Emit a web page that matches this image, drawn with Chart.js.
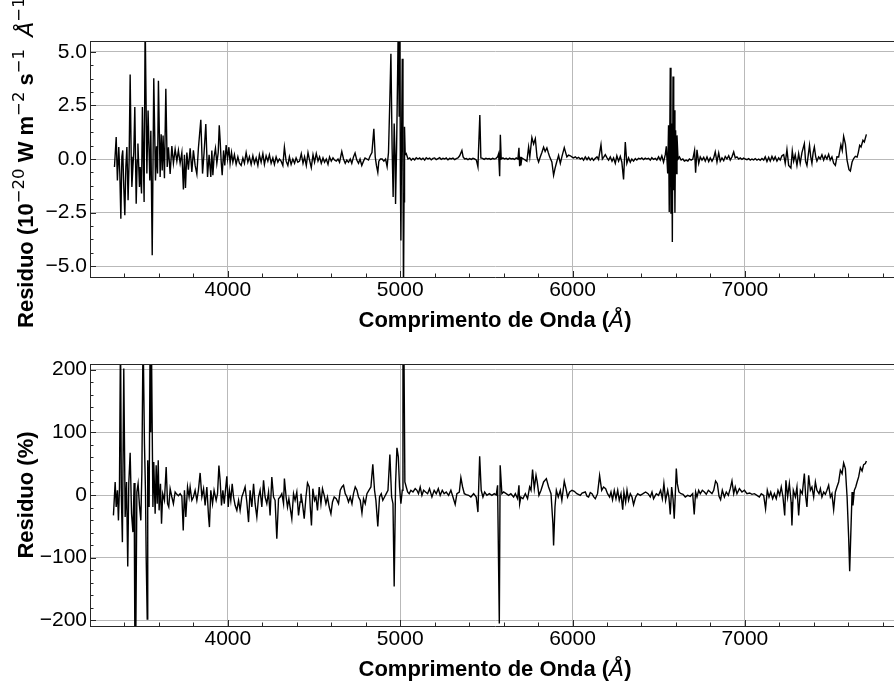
<!DOCTYPE html>
<html lang="pt">
<head>
<meta charset="utf-8">
<title>Resíduos do ajuste espectral</title>
<script src="https://cdn.jsdelivr.net/npm/chart.js@4.4.1/dist/chart.umd.min.js"></script>
<style>
  html, body { margin: 0; padding: 0; background: #fff; }
  #figure { position: relative; width: 894px; height: 684px; overflow: hidden; }
  #figure canvas { position: absolute; left: 0; }
  #fluxChart { top: 0; }
  #pctChart { top: 342px; }
</style>
</head>
<body>
<div id="figure">
  <canvas id="fluxChart" width="910" height="342"></canvas>
  <canvas id="pctChart" width="910" height="342"></canvas>
</div>
<script>
// ===========================
// Residual data (wavelength in Angstrom)
// ===========================

const waveFlux = [
    3342, 3352, 3359, 3367, 3373, 3379, 3385, 3390, 3396, 3402, 3408, 3414, 3421, 3427, 3433, 3439,
    3443, 3449, 3454, 3460, 3468, 3474, 3478, 3483, 3487, 3491, 3499, 3504, 3514, 3520, 3530, 3537,
    3547, 3553, 3561, 3570, 3580, 3586, 3592, 3597, 3607, 3613, 3619, 3624, 3632, 3640, 3648, 3655,
    3665, 3675, 3684, 3694, 3704, 3713, 3723, 3733, 3742, 3748, 3754, 3762, 3771, 3781, 3791, 3800,
    3810, 3820, 3829, 3843, 3853, 3862, 3872, 3882, 3891, 3901, 3907, 3913, 3920, 3928, 3936, 3944,
    3950, 3955, 3961, 3967, 3975, 3982, 3990, 3998, 4006, 4013, 4021, 4029, 4038, 4048, 4058, 4067,
    4077, 4087, 4096, 4106, 4116, 4125, 4135, 4145, 4154, 4164, 4174, 4183, 4193, 4203, 4212, 4222,
    4232, 4241, 4251, 4261, 4270, 4280, 4290, 4299, 4309, 4319, 4328, 4338, 4348, 4357, 4367, 4377,
    4387, 4396, 4406, 4416, 4426, 4436, 4445, 4455, 4465, 4474, 4484, 4494, 4503, 4513, 4523, 4532,
    4542, 4552, 4561, 4571, 4581, 4590, 4600, 4610, 4619, 4629, 4639, 4648, 4661, 4671, 4681, 4690,
    4700, 4710, 4719, 4729, 4738, 4748, 4758, 4767, 4777, 4787, 4796, 4806, 4816, 4826, 4836, 4847,
    4855, 4862, 4870, 4876, 4885, 4895, 4905, 4915, 4924, 4932, 4939, 4946, 4953, 4959, 4965, 4970,
    4973, 4979, 4985, 4989, 4994, 4998, 5001, 5004, 5008, 5012, 5016, 5019, 5022, 5025, 5029, 5035,
    5045, 5055, 5064, 5074, 5084, 5093, 5103, 5113, 5122, 5132, 5142, 5151, 5161, 5171, 5180, 5190,
    5200, 5209, 5219, 5229, 5238, 5248, 5258, 5267, 5277, 5287, 5296, 5306, 5316, 5325, 5335, 5345,
    5358, 5365, 5374, 5384, 5393, 5403, 5413, 5422, 5432, 5442, 5451, 5462, 5468, 5478, 5487, 5497,
    5507, 5516, 5526, 5536, 5545, 5555, 5565, 5571, 5577, 5581, 5586, 5596, 5605, 5615, 5625, 5634,
    5644, 5654, 5663, 5673, 5683, 5689, 5693, 5697, 5700, 5706, 5716, 5726, 5735, 5745, 5752, 5764,
    5774, 5784, 5794, 5803, 5813, 5822, 5832, 5841, 5851, 5859, 5867, 5880, 5890, 5898, 5906, 5919,
    5929, 5938, 5952, 5960, 5967, 5977, 5987, 5996, 6006, 6016, 6025, 6035, 6045, 6055, 6064, 6074,
    6084, 6093, 6103, 6113, 6122, 6132, 6142, 6151, 6165, 6173, 6180, 6190, 6200, 6209, 6219, 6229,
    6238, 6248, 6257, 6267, 6277, 6286, 6296, 6306, 6315, 6325, 6335, 6344, 6354, 6364, 6373, 6383,
    6393, 6402, 6412, 6422, 6431, 6441, 6451, 6460, 6470, 6480, 6489, 6499, 6509, 6518, 6528, 6538,
    6544, 6552, 6557, 6561, 6567, 6571, 6575, 6579, 6583, 6587, 6590, 6594, 6598, 6602, 6606, 6612,
    6620, 6630, 6640, 6649, 6659, 6669, 6678, 6688, 6698, 6708, 6714, 6722, 6732, 6741, 6751, 6761,
    6770, 6780, 6790, 6799, 6809, 6819, 6828, 6838, 6848, 6857, 6867, 6877, 6886, 6896, 6906, 6915,
    6925, 6935, 6944, 6954, 6964, 6973, 6983, 6993, 7002, 7012, 7022, 7031, 7041, 7051, 7060, 7070,
    7080, 7089, 7099, 7109, 7118, 7128, 7138, 7147, 7157, 7167, 7176, 7186, 7196, 7205, 7215, 7225,
    7234, 7244, 7254, 7267, 7275, 7283, 7292, 7302, 7312, 7321, 7331, 7345, 7352, 7360, 7368, 7375,
    7382, 7389, 7396, 7403, 7411, 7418, 7428, 7437, 7447, 7457, 7466, 7476, 7486, 7495, 7505, 7515,
    7525, 7534, 7544, 7557, 7565, 7573, 7583, 7593, 7604, 7612, 7622, 7631, 7641, 7651, 7658, 7666,
    7674, 7685, 7693, 7705
];

// 10^-20 W m^-2 s^-1 A^-1
const residFlux = [
    -0.37, 1.02, -1.00, 0.56, -0.68, -2.78, 0.10, 0.40, -1.30, -2.62, -0.37, 0.56, -1.92, -0.06, 3.94, 0.10,
    -1.30, -0.37, 0.30, 2.42, -2.08, -0.05, 0.72, -0.40, -1.30, -0.37, -1.61, 2.42, -2.00, 6.50, -0.68, 2.26,
    -1.00, 1.32, -4.49, 3.76, -1.00, 0.59, -0.68, 3.65, -0.84, 1.15, -0.53, 1.10, -0.90, 3.27, -0.37, 0.55,
    -0.70, 0.60, -0.20, 0.45, -0.10, 0.40, -0.20, 0.30, -1.42, 0.20, -1.35, 0.30, -0.50, 0.50, -0.60, 0.40,
    -0.30, -0.70, 0.50, 1.83, -0.68, 0.30, 1.63, -0.84, 0.20, -0.84, 0.40, -0.76, 0.10, 0.50, -0.20, 0.30,
    1.57, 0.90, -0.10, -0.76, 0.40, -0.30, 0.65, 0.00, 0.55, -0.20, 0.30, -0.15, 0.20, -0.25, 0.10, -0.20,
    -0.30, 0.05, -0.20, 0.30, -0.15, 0.10, -0.25, 0.15, -0.20, 0.05, -0.30, 0.20, -0.15, 0.25, -0.25, 0.15,
    -0.10, 0.20, -0.20, 0.05, -0.25, 0.10, -0.15, 0.00, -0.10, -0.30, 0.55, -0.10, -0.30, 0.10, -0.25, 0.00,
    -0.20, 0.05, -0.15, -0.10, 0.25, -0.20, 0.10, -0.30, 0.30, -0.05, -0.40, 0.20, -0.15, 0.25, -0.10, 0.10,
    -0.20, 0.05, -0.15, 0.00, -0.25, 0.10, -0.10, 0.05, -0.05, -0.10, 0.00, -0.15, 0.35, 0.00, -0.20, -0.05,
    -0.15, 0.00, -0.20, 0.10, 0.28, -0.05, -0.20, 0.00, -0.30, -0.10, 0.05, 0.00, -0.05, 0.15, 0.30, 1.41,
    0.10, -0.30, -0.62, -0.10, 0.00, 0.00, -0.10, 0.00, -0.35, 0.30, 2.50, 4.90, 0.50, -1.77, 1.65, 0.20,
    -2.10, 0.50, 4.00, 6.50, 2.00, 6.50, -1.00, -3.80, 1.00, 4.67, 0.00, -6.50, -2.00, 1.50, 0.20, 0.25,
    0.00, 0.05, -0.05, 0.03, -0.04, 0.06, 0.00, 0.05, -0.03, 0.04, -0.05, 0.06, 0.00, 0.04, -0.04, 0.03,
    0.05, -0.03, 0.02, 0.06, -0.02, 0.03, 0.00, 0.05, -0.04, 0.03, 0.00, 0.04, -0.03, 0.02, 0.05, 0.15,
    0.40, 0.10, 0.00, 0.02, -0.03, 0.02, -0.02, 0.03, 0.00, -0.05, -0.37, 2.05, 0.05, 0.03, -0.02, 0.03,
    0.00, 0.02, -0.02, 0.03, 0.00, 0.02, 0.10, 0.25, -0.80, 1.13, 0.00, 0.05, 0.00, 0.03, -0.02, 0.04,
    0.00, 0.02, -0.02, 0.05, 0.00, 0.52, -0.34, 0.10, -0.30, 0.05, 0.00, -0.05, -0.10, 0.56, 0.10, 1.00,
    0.70, 0.95, 0.08, -0.14, 0.10, 0.30, 0.55, 0.35, 0.52, 0.30, 0.10, -0.14, -0.76, -0.45, -0.20, 0.17,
    -0.20, 0.10, 0.53, 0.30, 0.10, 0.18, 0.15, 0.10, 0.05, 0.10, 0.03, 0.08, 0.00, 0.05, -0.05, 0.10,
    -0.03, 0.08, -0.05, 0.04, -0.06, 0.03, 0.10, -0.02, 0.67, 0.00, 0.08, 0.20, 0.05, -0.05, 0.10, -0.10,
    0.05, -0.20, 0.15, -0.10, 0.12, -0.15, -0.95, 0.79, -0.20, 0.05, -0.15, 0.00, -0.10, 0.02, -0.05, 0.03,
    0.00, 0.05, -0.03, 0.04, 0.00, 0.03, -0.05, 0.06, -0.02, 0.03, -0.05, 0.10, -0.05, 0.15, -0.15, 0.20,
    0.59, -0.68, 1.57, -2.47, 4.25, -2.55, 1.65, -3.87, 3.85, -1.46, 2.27, -2.50, 1.34, -0.68, 1.10, 0.00,
    0.10, -0.05, 0.00, -0.10, -0.05, -0.10, 0.00, -0.05, 0.00, 0.40, -0.64, 0.43, -0.20, 0.10, -0.05, 0.08,
    -0.10, 0.10, -0.12, 0.05, -0.10, 0.05, 0.33, -0.14, 0.28, -0.10, 0.05, -0.08, 0.12, 0.00, 0.15, -0.05,
    0.10, 0.33, 0.05, 0.10, 0.00, 0.05, -0.02, 0.04, 0.00, -0.03, 0.02, -0.05, 0.00, -0.04, 0.02, -0.05,
    0.00, -0.06, 0.02, -0.05, 0.10, -0.12, 0.08, -0.10, 0.12, -0.05, 0.10, -0.10, 0.05, -0.05, 0.15, 0.20,
    -0.20, 0.44, -0.30, -0.42, 0.37, -0.10, 0.20, -0.30, 0.25, -0.20, 0.30, 0.71, -0.10, -0.30, 0.20, 0.64,
    0.10, -0.20, 0.30, 0.56, 0.10, -0.10, 0.10, 0.00, 0.20, -0.05, 0.15, 0.00, 0.22, -0.05, 0.10, -0.20,
    -0.30, 0.10, 0.09, 0.67, 0.40, 1.06, 0.71, -0.06, -0.50, -0.56, -0.14, 0.02, 0.12, 0.09, 0.30, 0.64,
    0.56, 0.87, 0.79, 1.15
];

const wavePct = [
    3336, 3346, 3352, 3359, 3365, 3371, 3377, 3382, 3388, 3396, 3404, 3412, 3419, 3425, 3433, 3441,
    3449, 3456, 3461, 3465, 3472, 3479, 3487, 3495, 3501, 3508, 3516, 3522, 3526, 3532, 3535, 3543,
    3549, 3552, 3556, 3565, 3570, 3578, 3584, 3590, 3596, 3601, 3609, 3615, 3622, 3632, 3642, 3650,
    3657, 3665, 3675, 3684, 3694, 3704, 3713, 3723, 3733, 3741, 3748, 3756, 3766, 3775, 3781, 3791,
    3800, 3810, 3820, 3829, 3839, 3849, 3859, 3868, 3878, 3888, 3893, 3901, 3911, 3920, 3932, 3940,
    3948, 3955, 3963, 3971, 3979, 3986, 3994, 4002, 4009, 4017, 4025, 4033, 4042, 4052, 4062, 4071,
    4081, 4091, 4100, 4110, 4120, 4129, 4139, 4149, 4158, 4168, 4178, 4187, 4197, 4207, 4216, 4226,
    4236, 4245, 4255, 4265, 4274, 4284, 4294, 4303, 4313, 4323, 4328, 4338, 4346, 4354, 4361, 4371,
    4381, 4390, 4400, 4410, 4419, 4424, 4433, 4443, 4453, 4462, 4472, 4478, 4485, 4493, 4503, 4511,
    4520, 4530, 4540, 4549, 4559, 4569, 4578, 4588, 4598, 4607, 4617, 4629, 4642, 4652, 4662, 4671,
    4681, 4691, 4700, 4710, 4720, 4729, 4739, 4749, 4758, 4768, 4778, 4787, 4797, 4807, 4818, 4830,
    4841, 4851, 4859, 4870, 4880, 4890, 4899, 4909, 4919, 4929, 4940, 4950, 4958, 4965, 4973, 4981,
    4989, 4996, 5004, 5012, 5016, 5018, 5021, 5027, 5035, 5043, 5052, 5062, 5074, 5087, 5097, 5106,
    5116, 5126, 5136, 5147, 5159, 5170, 5184, 5197, 5209, 5221, 5232, 5244, 5255, 5267, 5281, 5294,
    5306, 5319, 5329, 5343, 5352, 5362, 5372, 5383, 5397, 5410, 5426, 5441, 5451, 5461, 5470, 5480,
    5490, 5503, 5517, 5532, 5546, 5557, 5565, 5575, 5580, 5590, 5600, 5615, 5629, 5642, 5658, 5668,
    5681, 5689, 5693, 5700, 5712, 5726, 5739, 5751, 5759, 5768, 5778, 5788, 5795, 5805, 5817, 5832,
    5848, 5861, 5875, 5886, 5890, 5898, 5906, 5917, 5929, 5938, 5952, 5964, 5971, 5983, 5997, 6010,
    6025, 6045, 6055, 6074, 6084, 6093, 6103, 6113, 6122, 6132, 6145, 6157, 6169, 6180, 6192, 6203,
    6215, 6223, 6232, 6242, 6252, 6262, 6271, 6281, 6291, 6298, 6308, 6316, 6325, 6335, 6345, 6354,
    6366, 6378, 6393, 6409, 6424, 6438, 6451, 6461, 6470, 6486, 6499, 6511, 6521, 6530, 6540, 6552,
    6559, 6567, 6575, 6583, 6590, 6596, 6602, 6608, 6617, 6629, 6641, 6654, 6668, 6683, 6697, 6706,
    6714, 6722, 6732, 6741, 6753, 6765, 6776, 6788, 6799, 6809, 6819, 6830, 6840, 6850, 6859, 6869,
    6881, 6892, 6904, 6915, 6925, 6935, 6944, 6954, 6968, 6983, 6997, 7012, 7028, 7041, 7055, 7070,
    7084, 7095, 7109, 7120, 7130, 7140, 7150, 7161, 7171, 7182, 7192, 7202, 7211, 7221, 7231, 7238,
    7248, 7258, 7268, 7273, 7281, 7293, 7302, 7312, 7322, 7333, 7345, 7353, 7360, 7370, 7380, 7389,
    7399, 7409, 7418, 7430, 7438, 7447, 7457, 7467, 7476, 7486, 7496, 7505, 7515, 7525, 7534, 7544,
    7554, 7564, 7573, 7583, 7593, 7602, 7608, 7614, 7622, 7627, 7635, 7643, 7651, 7660, 7670, 7680,
    7689, 7699, 7705
];

// percent
const residPct = [
    -32.5, 20.8, -19.2, 7.5, -40.5, 12.8, 260, -3.2, -75.2, 202, -35.2, 20.8, -114, 18, 67.2, -29.9,
    -59.2, 19.2, -270, -260, 4.8, 18, -16.5, -40.5, 36.8, 260, 82, 4.8, -99.2, -197.9, 55.5, -19.2,
    260, 100, 260, -19.2, 52.8, -29.9, 47.5, -13.9, 55.5, -24.5, 18, -45.9, 2.1, -8.5, 44.8, -13.9,
    -19.2, 10.1, -3.2, -13.9, 4.8, 1.1, -1.1, 2.1, -2.1, -56.5, 7.5, -35.2, 12.8, -3.2, 12.8, -8.5,
    -3.2, 7.5, -8.5, 7.5, 35.2, -3.2, 10.1, -16.5, 12.8, -35.2, -51.2, 7.5, -13.9, 7.5, -8.5, 2.1,
    46.9, 23.5, -16.5, 7.5, -13.9, 7.5, 29.9, -19.2, 7.5, -8.5, 18, -3.2, -16.5, -24.5, -8.5, -24.5,
    -3.2, 4.8, 12.8, -11.2, -43.2, 7.5, -19.2, 18, -13.9, -35.2, -3.2, 7.5, -19.2, 23.5, -3.2, -13.9,
    4.8, -32.5, 28.8, -3.2, -8.5, -69.9, -5.9, -3.2, 2.1, -13.9, 26.1, -3.2, -19.2, -5.9, -19.2, -37.9,
    2.1, -8.5, 4.8, -32.5, -11.2, 2.1, -13.9, -37.9, -3.2, 19.2, 12.8, -19.2, -48.5, 10.1, -8.5, -3.2,
    -24.5, 12.8, -13.9, 10.1, -0.5, -13.9, -3.2, -19.2, -29.9, -11.2, -3.2, -5.9, -13.9, 7.5, 12.8, 15.5,
    2.1, -3.2, -11.2, -3.2, -13.9, 2.1, 12.8, 7.5, -3.2, -8.5, -28.8, -5.9, -13.9, 2.1, 7.5, 12.8,
    49.1, 7.5, -8.5, -50.1, -3.2, 2.0, -8.5, -3.2, 2.1, 7.5, 64.5, -3.2, -13.9, -146, 18, 75.2,
    60.8, 12.8, -13.9, 7.5, 260, 150, 260, 20.8, 12.8, 4.8, 2.1, 7.5, 4.8, 10.1, 7.5, 2.1,
    12.8, -0.5, 7.5, 4.8, 2.1, 10.1, -3.2, 7.5, 2.1, 10.1, -0.5, 7.5, 2.1, 4.8, -0.5, 7.5,
    -3.2, -14.9, 2.1, 4.8, 27.7, 12.8, 2.1, 0.5, -0.5, -3.2, 2.1, -3.2, -27.2, 61.9, 7.5, -3.2,
    4.8, -0.5, 2.1, -0.5, 2.1, 0.0, 15.5, -205, 47.5, 2.1, 4.8, 2.1, -0.5, 2.1, -3.2, 2.1,
    -5.9, 15.5, -13.9, -3.2, -5.9, 2.1, -5.9, 12.8, 7.5, 40.5, 10.1, 31.5, 20.8, -0.5, 7.5, 20.8,
    26.1, 12.8, 2.1, -45.9, -80.5, -19.2, 7.5, -3.2, 7.5, -8.5, 21.9, 7.5, -3.2, 4.8, 7.5, 6.0,
    2.1, -0.5, 3.0, 4.8, -2.0, -3.2, 4.0, 2.1, -2.5, -5.9, 2.1, 30.9, 7.5, 12.8, 10.1, 2.1,
    -3.2, 4.8, -7.5, 7.5, -5.9, 7.5, -8.5, 2.1, -23.5, 4.8, -11.2, 7.5, -8.5, 2.1, -3.2, -15.5,
    -3.2, 2.1, -0.5, 2.1, 4.8, 2.1, -3.2, 4.8, -5.9, 2.1, -0.5, 7.5, -5.9, 18.1, -8.5, 7.5,
    -3.2, -30.9, 12.8, -5.9, -37.9, -0.5, 42.1, 18.1, 4.8, 2.1, 1.1, -3.2, -0.5, -2.1, 2.1, -30.9,
    4.8, -3.2, 7.5, 2.1, 7.5, 4.8, 1.1, 7.5, 4.8, 2.1, 7.5, 22.4, 18.1, -2.1, -7.5, 7.5,
    -3.2, 4.8, -0.5, 10.1, 22.4, 2.1, 12.8, 2.1, 10.1, 4.8, 7.5, 2.1, 3.2, 1.1, 2.1, -0.5,
    -3.2, 2.1, -0.5, -21.9, 7.5, -3.2, 4.8, -5.9, 2.1, -5.9, 7.5, -0.5, 12.8, -3.2, -32.5, 23.5,
    -3.2, 18.1, -11.2, -48.5, 7.5, -3.2, 12.8, -32.5, 7.5, 2.1, 34.1, -3.2, -19.2, 31.5, 7.5, 12.8,
    -3.2, 20.8, 7.5, 2.1, 10.1, -3.2, 4.8, 1.1, 7.5, 15.5, -3.2, 2.1, -23.5, 4.8, 12.8, 20.8,
    39.5, 34.1, 51.2, 42.1, -3.2, -67.2, -121.6, -67.2, 4.8, -16.5, 7.5, 12.8, 20.8, 28.8, 43.7, 38.4,
    48.5, 50.1, 54.4
];

// Axis ranges and tick values
const waveRange = [3200, 7900];
const waveTicks = [4000, 5000, 6000, 7000];
const fluxRange = [-5.5, 5.5];
const fluxTicks = [-5, -2.5, 0, 2.5, 5];
const pctRange = [-209, 209];
const pctTicks = [-200, -100, 0, 100, 200];

// ===========================
// Fonts and colours
// ===========================

const SANS = '"Liberation Sans", Arial, Helvetica, sans-serif';
const MATH = '"DejaVu Sans", Verdana, sans-serif';
const SPINE = '#262626';
const GRID = '#b9b9b9';

const MINUS = '\u2212';

const xTitle = [
    ['Comprimento de Onda (', `bold 22px ${SANS}`, 0],
    ['Å', `italic 22px ${MATH}`, 0],
    [')', `bold 22px ${SANS}`, 0]
];

const fluxTitle = [
    ['Residuo (10', `bold 22px ${SANS}`, 0],
    [MINUS + '20', `16.5px ${MATH}`, 9],
    [' W m', `bold 22px ${SANS}`, 0],
    [MINUS + '2', `16.5px ${MATH}`, 9],
    [' s', `bold 22px ${SANS}`, 0],
    [MINUS + '1', `16.5px ${MATH}`, 9],
    ['  ', `bold 22px ${SANS}`, 0],
    ['Å', `italic 22px ${MATH}`, 0],
    [MINUS + '1', `16.5px ${MATH}`, 9],
    [')', `bold 22px ${SANS}`, 0]
];

const pctTitle = [
    ['Residuo (%)', `bold 22px ${SANS}`, 0]
];

// ===========================
// Helpers
// ===========================

function drawRich(ctx, parts, cx, baseline) {
    let width = 0;
    parts.forEach(([text, font]) => {
        ctx.font = font;
        width += ctx.measureText(text).width;
    });
    let x = cx - width / 2;
    parts.forEach(([text, font, rise]) => {
        ctx.font = font;
        ctx.fillText(text, x, baseline - rise);
        x += ctx.measureText(text).width;
    });
}

function signed(v, digits) {
    const s = Math.abs(v).toFixed(digits);
    return v < 0 ? MINUS + s : s;
}

// Inward ticks, top spine and the axis titles
const axisDecor = {
    id: 'axisDecor',
    afterDraw(chart, args, opts) {
        const { ctx, chartArea: area } = chart;
        const xs = chart.scales.x;
        const ys = chart.scales.y;
        const crisp = (v) => Math.round(v) + 0.5;

        ctx.save();
        ctx.strokeStyle = SPINE;
        ctx.lineWidth = 1;
        ctx.beginPath();
        ctx.moveTo(area.left, crisp(area.top));
        ctx.lineTo(area.right, crisp(area.top));
        ctx.moveTo(crisp(area.right), area.top);
        ctx.lineTo(crisp(area.right), area.bottom);

        const first = (min, step) => Math.ceil(min / step - 1e-9);
        for (let i = first(xs.min, opts.xMinor); i * opts.xMinor <= xs.max; i++) {
            const v = i * opts.xMinor;
            const major = Math.abs(v / opts.xMajor - Math.round(v / opts.xMajor)) < 1e-6;
            const px = crisp(xs.getPixelForValue(v));
            ctx.moveTo(px, area.bottom);
            ctx.lineTo(px, area.bottom - (major ? 6 : 3.5));
        }
        for (let i = first(ys.min, opts.yMinor); i * opts.yMinor <= ys.max + 1e-9; i++) {
            const v = i * opts.yMinor;
            const major = Math.abs(v / opts.yMajor - Math.round(v / opts.yMajor)) < 1e-6;
            const py = crisp(ys.getPixelForValue(v));
            ctx.moveTo(area.left, py);
            ctx.lineTo(area.left + (major ? 6 : 3.5), py);
        }
        ctx.stroke();

        ctx.fillStyle = '#000';
        ctx.textAlign = 'left';
        ctx.textBaseline = 'alphabetic';
        drawRich(ctx, xTitle, (area.left + area.right) / 2, area.bottom + opts.xTitleGap);

        ctx.translate(opts.yTitleX, (area.top + area.bottom) / 2);
        ctx.rotate(-Math.PI / 2);
        drawRich(ctx, opts.yTitle, 0, 0);
        ctx.restore();
    }
};

// ===========================
// Panels
// ===========================

function makePanel(canvasId, waves, values, cfg) {
    const points = waves.map((w, i) => ({ x: w, y: values[i] }));

    return new Chart(document.getElementById(canvasId), {
        type: 'line',
        data: {
            datasets: [{
                data: points,
                borderColor: '#000',
                borderWidth: 1.4,
                pointRadius: 0,
                tension: 0,
                fill: false
            }]
        },
        options: {
            responsive: false,
            animation: false,
            events: [],
            layout: {
                padding: { top: cfg.top, right: 10, left: 0, bottom: 0 }
            },
            plugins: {
                legend: { display: false },
                tooltip: { enabled: false },
                axisDecor: {
                    xMinor: 200, xMajor: 1000,
                    yMinor: cfg.yMinor, yMajor: cfg.yStep,
                    xTitleGap: 50, yTitleX: 33,
                    yTitle: cfg.title
                }
            },
            scales: {
                x: {
                    type: 'linear',
                    min: waveRange[0],
                    max: waveRange[1],
                    afterBuildTicks: (scale) => {
                        scale.ticks = waveTicks.map((v) => ({ value: v }));
                    },
                    afterFit: (scale) => { scale.height = cfg.xHeight; },
                    grid: { color: GRID, lineWidth: 1, drawTicks: false },
                    border: { color: SPINE, width: 1 },
                    ticks: {
                        maxRotation: 0,
                        autoSkip: false,
                        padding: 1,
                        color: '#000',
                        font: { family: SANS, size: 21 },
                        callback: (v) => String(v)
                    }
                },
                y: {
                    min: cfg.range[0],
                    max: cfg.range[1],
                    afterBuildTicks: (scale) => {
                        scale.ticks = cfg.ticks.map((v) => ({ value: v }));
                    },
                    afterFit: (scale) => { scale.width = 90; },
                    grid: { color: GRID, lineWidth: 1, drawTicks: false },
                    border: { color: SPINE, width: 1 },
                    ticks: {
                        autoSkip: false,
                        padding: 3,
                        color: '#000',
                        font: { family: SANS, size: 21 },
                        callback: (v) => signed(v, cfg.digits)
                    }
                }
            }
        },
        plugins: [axisDecor]
    });
}

makePanel('fluxChart', waveFlux, residFlux, {
    top: 41, xHeight: 65,
    range: fluxRange, ticks: fluxTicks, yStep: 2.5, yMinor: 0.625, digits: 1,
    title: fluxTitle
});

makePanel('pctChart', wavePct, residPct, {
    top: 22, xHeight: 58,
    range: pctRange, ticks: pctTicks, yStep: 100, yMinor: 20, digits: 0,
    title: pctTitle
});
</script>
</body>
</html>
